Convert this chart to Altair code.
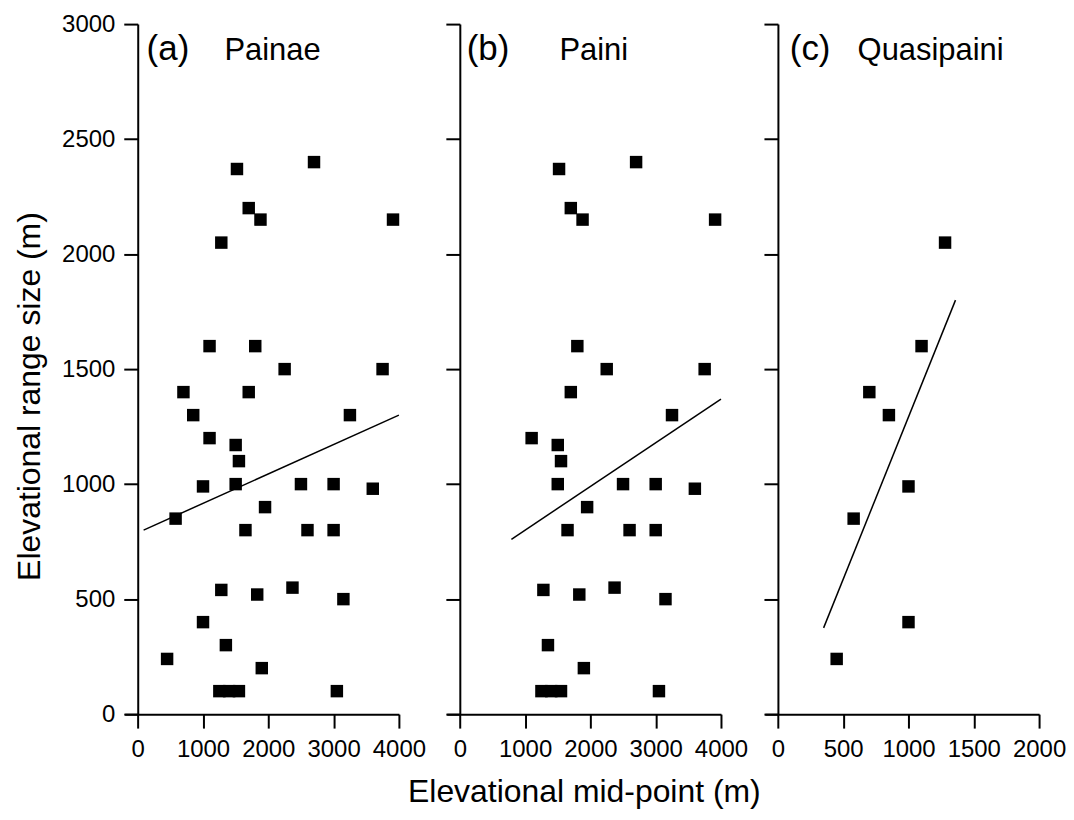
import altair as alt
import pandas as pd

# ---------------- data ----------------
panel_ids = ["(a)", "(b)", "(c)"]
panel_names = ["Painae", "Paini", "Quasipaini"]

# Paini species: elevational mid-point (m) and elevational range size (m)
paini_mid = [2700, 1520, 1700, 1880, 3910, 1800, 2250, 3750, 1700, 3250,
             1100, 1500, 1550, 1500, 2500, 3000, 3600, 1950, 1650, 2600,
             3000, 1280, 1830, 2370, 3150, 1350, 1900, 1250, 1400, 1550, 3050]
paini_range = [2400, 2370, 2200, 2150, 2150, 1600, 1500, 1500, 1400, 1300,
               1200, 1170, 1100, 1000, 1000, 1000, 980, 900, 800, 800,
               800, 540, 520, 550, 500, 300, 200, 100, 100, 100, 100]

# Quasipaini species
quasi_mid = [1280, 1100, 700, 850, 1000, 580, 1000, 450]
quasi_range = [2050, 1600, 1400, 1300, 990, 850, 400, 240]

# Painae (whole subfamily) = Paini + Quasipaini
painae_mid = paini_mid + quasi_mid
painae_range = paini_range + quasi_range

# fitted regression lines (end points)
fit_a_mid = [90, 4000]
fit_a_range = [800, 1300]
fit_b_mid = [790, 4000]
fit_b_range = [760, 1370]
fit_c_mid = [350, 1360]
fit_c_range = [375, 1800]

x_ticks_ab = [0, 1000, 2000, 3000, 4000]
x_ticks_c = [0, 500, 1000, 1500, 2000]
y_ticks = [0, 500, 1000, 1500, 2000, 2500, 3000]

x_title = "Elevational mid-point (m)"
y_title = "Elevational range size (m)"

# ---------------- styling ----------------
FONT = "Liberation Sans"
W, H = 275, 692
EXT = 0.05  # x axis line extends a little left of 0
Y_OFF = -W * EXT / (1 + EXT)


def axis_common():
    return dict(domainColor="black", domainWidth=2, tickColor="black",
                tickWidth=2, tickSize=14, labelFont=FONT, labelFontSize=24,
                labelColor="black", labelPadding=9, grid=False,
                labelFlush=False, labelOverlap=False, format="d",
                titleFont=FONT, titleFontSize=32, titleFontWeight="normal",
                titleColor="black")


def panel(mid, rng, fmid, frng, xmax, xticks, pid, pname, pid_x, name_x,
          first, middle):
    pts = pd.DataFrame({"mid": mid, "range": rng})
    fit = pd.DataFrame({"mid": fmid, "range": frng})

    xscale = alt.Scale(domain=[-xmax * EXT, xmax], nice=False, zero=False)
    yscale = alt.Scale(domain=[0, 3000], nice=False)

    xkw = axis_common()
    xkw.update(values=xticks)
    if middle:
        xkw.update(titlePadding=16)
        xenc = alt.X("mid:Q", scale=xscale, axis=alt.Axis(**xkw), title=x_title)
    else:
        xenc = alt.X("mid:Q", scale=xscale, axis=alt.Axis(**xkw), title=None)

    ykw = axis_common()
    ykw.update(values=y_ticks, offset=Y_OFF)
    if first:
        ykw.update(titlePadding=15, titleY=373)
        yenc = alt.Y("range:Q", scale=yscale, axis=alt.Axis(**ykw), title=y_title)
    else:
        ykw.update(labels=False)
        yenc = alt.Y("range:Q", scale=yscale, axis=alt.Axis(**ykw), title=None)

    line = alt.Chart(fit).mark_line(color="black", strokeWidth=1.5).encode(
        x=xenc, y=yenc)
    squares = alt.Chart(pts).mark_square(
        size=156, color="black", opacity=1, filled=True).encode(x="mid:Q", y="range:Q")

    lab = pd.DataFrame({"t": [pid]})
    nam = pd.DataFrame({"t": [pname]})
    t1 = alt.Chart(lab).mark_text(align="left", baseline="alphabetic",
                                  font=FONT, fontSize=35, color="black").encode(
        x=alt.value(pid_x), y=alt.value(36), text="t:N")
    t2 = alt.Chart(nam).mark_text(align="left", baseline="alphabetic",
                                  font=FONT, fontSize=31, color="black").encode(
        x=alt.value(name_x), y=alt.value(36), text="t:N")

    return alt.layer(line, squares, t1, t2).properties(width=W, height=H)


pa = panel(painae_mid, painae_range, fit_a_mid, fit_a_range, 4000, x_ticks_ab,
           panel_ids[0], panel_names[0], 22, 100, True, False)
pb = panel(paini_mid, paini_range, fit_b_mid, fit_b_range, 4000, x_ticks_ab,
           panel_ids[1], panel_names[1], 20, 113, False, True)
pc = panel(quasi_mid, quasi_range, fit_c_mid, fit_c_range, 2000, x_ticks_c,
           panel_ids[2], panel_names[2], 25, 93, False, False)

chart = alt.hconcat(
    pa,
    alt.hconcat(pb, pc, spacing=44, bounds="flush"),
    spacing=48, bounds="flush",
).properties(
    padding={"left": 5, "top": 3, "right": 0, "bottom": 0},
    background="white",
).configure_view(stroke=None)

chart.save("out.html", embed_options={"renderer": "svg", "actions": False})
